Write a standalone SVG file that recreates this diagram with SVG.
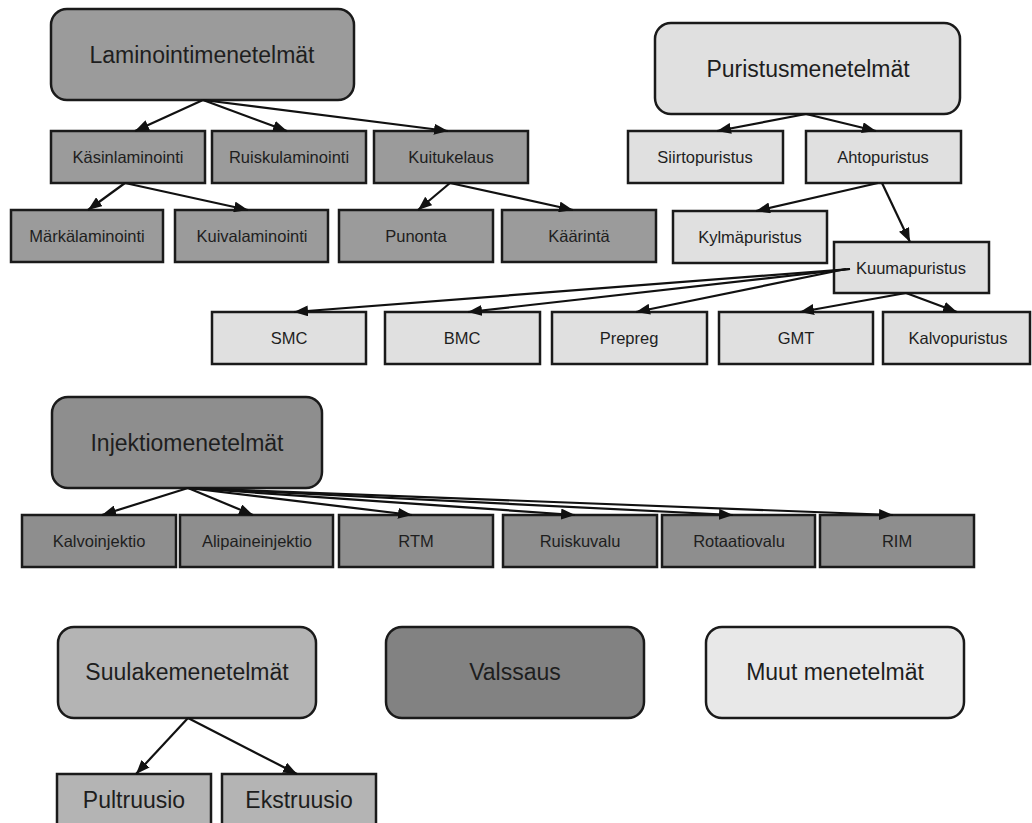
<svg xmlns="http://www.w3.org/2000/svg" width="1032" height="823" viewBox="0 0 1032 823">
<defs>
<marker id="ah" viewBox="0 0 14 11" refX="14" refY="5.5" markerWidth="14" markerHeight="11" markerUnits="userSpaceOnUse" orient="auto">
<path d="M0,0 L14,5.5 L0,11 z" fill="#111"/>
</marker>
</defs>
<style>
.box{stroke:#1a1a1a;stroke-width:2.5}
.d1{fill:#9b9b9b}
.d2{fill:#8e8e8e}
.d3{fill:#828282}
.m1{fill:#b4b4b4}
.l1{fill:#e0e0e0}
.l2{fill:#e8e8e8}
text{font-family:"Liberation Sans",Arial,sans-serif;fill:#1e1e1e;text-anchor:middle}
.big{font-size:23px}
.sm{font-size:16.5px}
.edge{stroke:#111;stroke-width:2.2;fill:none;marker-end:url(#ah)}
</style>
<rect width="1032" height="823" fill="#fff"/>

<g id="laminointi"><rect class="box d1" x="51" y="9" width="303" height="91" rx="16"/><text class="big" x="202" y="63">Laminointimenetelmät</text></g>
<g id="kasinlaminointi"><rect class="box d1" x="51" y="131" width="154" height="52"/><text class="sm" x="128" y="163">Käsinlaminointi</text></g>
<g id="ruiskulaminointi"><rect class="box d1" x="212" y="131" width="154" height="52"/><text class="sm" x="289" y="163">Ruiskulaminointi</text></g>
<g id="kuitukelaus"><rect class="box d1" x="374" y="131" width="154" height="52"/><text class="sm" x="451" y="163">Kuitukelaus</text></g>
<g id="markalaminointi"><rect class="box d1" x="11" y="210" width="152" height="52"/><text class="sm" x="87" y="242">Märkälaminointi</text></g>
<g id="kuivalaminointi"><rect class="box d1" x="175" y="210" width="153" height="52"/><text class="sm" x="252" y="242">Kuivalaminointi</text></g>
<g id="punonta"><rect class="box d1" x="339" y="210" width="154" height="52"/><text class="sm" x="416" y="242">Punonta</text></g>
<g id="kaarinta"><rect class="box d1" x="502" y="210" width="154" height="52"/><text class="sm" x="579" y="242">Käärintä</text></g>

<g id="puristus"><rect class="box l1" x="655" y="23" width="305" height="91" rx="16"/><text class="big" x="808" y="77">Puristusmenetelmät</text></g>
<g id="siirtopuristus"><rect class="box l1" x="628" y="131" width="155" height="52"/><text class="sm" x="705" y="163">Siirtopuristus</text></g>
<g id="ahtopuristus"><rect class="box l1" x="806" y="131" width="155" height="52"/><text class="sm" x="883" y="163">Ahtopuristus</text></g>
<g id="kylmapuristus"><rect class="box l1" x="673" y="211" width="154" height="52"/><text class="sm" x="750" y="243">Kylmäpuristus</text></g>
<g id="kuumapuristus"><rect class="box l1" x="834" y="242" width="155" height="51"/><text class="sm" x="911" y="274">Kuumapuristus</text></g>
<g id="smc"><rect class="box l1" x="212" y="312" width="154" height="52"/><text class="sm" x="289" y="344">SMC</text></g>
<g id="bmc"><rect class="box l1" x="385" y="312" width="155" height="52"/><text class="sm" x="462" y="344">BMC</text></g>
<g id="prepreg"><rect class="box l1" x="552" y="312" width="155" height="52"/><text class="sm" x="629" y="344">Prepreg</text></g>
<g id="gmt"><rect class="box l1" x="719" y="312" width="154" height="52"/><text class="sm" x="796" y="344">GMT</text></g>
<g id="kalvopuristus"><rect class="box l1" x="883" y="312" width="147" height="52"/><text class="sm" x="958" y="344">Kalvopuristus</text></g>

<g id="injektio"><rect class="box d2" x="52" y="397" width="270" height="91" rx="16"/><text class="big" x="187" y="451">Injektiomenetelmät</text></g>
<g id="kalvoinjektio"><rect class="box d2" x="22" y="515" width="154" height="52"/><text class="sm" x="99" y="547">Kalvoinjektio</text></g>
<g id="alipaineinjektio"><rect class="box d2" x="180" y="515" width="153" height="52"/><text class="sm" x="257" y="547">Alipaineinjektio</text></g>
<g id="rtm"><rect class="box d2" x="339" y="515" width="154" height="52"/><text class="sm" x="416" y="547">RTM</text></g>
<g id="ruiskuvalu"><rect class="box d2" x="503" y="515" width="154" height="52"/><text class="sm" x="580" y="547">Ruiskuvalu</text></g>
<g id="rotaatiovalu"><rect class="box d2" x="662" y="515" width="153" height="52"/><text class="sm" x="739" y="547">Rotaatiovalu</text></g>
<g id="rim"><rect class="box d2" x="820" y="515" width="154" height="52"/><text class="sm" x="897" y="547">RIM</text></g>

<g id="suulake"><rect class="box m1" x="58" y="627" width="258" height="91" rx="16"/><text class="big" x="187" y="680">Suulakemenetelmät</text></g>
<g id="valssaus"><rect class="box d3" x="386" y="627" width="258" height="91" rx="16"/><text class="big" x="515" y="680">Valssaus</text></g>
<g id="muut"><rect class="box l2" x="706" y="627" width="258" height="91" rx="16"/><text class="big" x="835" y="680">Muut menetelmät</text></g>
<g id="pultruusio"><rect class="box m1" x="57" y="774" width="154" height="56"/><text class="big" x="134" y="808">Pultruusio</text></g>
<g id="ekstruusio"><rect class="box m1" x="222" y="774" width="154" height="56"/><text class="big" x="299" y="808">Ekstruusio</text></g>

<g id="connectors">
<line class="edge" x1="203" y1="100" x2="135" y2="131"/>
<line class="edge" x1="203" y1="100" x2="287" y2="131"/>
<line class="edge" x1="203" y1="100" x2="448" y2="131"/>
<line class="edge" x1="125" y1="183" x2="88" y2="210"/>
<line class="edge" x1="125" y1="183" x2="248" y2="210"/>
<line class="edge" x1="450" y1="183" x2="418" y2="210"/>
<line class="edge" x1="450" y1="183" x2="573" y2="210"/>
<line class="edge" x1="806" y1="114" x2="717" y2="131"/>
<line class="edge" x1="806" y1="114" x2="876" y2="131"/>
<line class="edge" x1="878" y1="183" x2="756" y2="211"/>
<line class="edge" x1="882" y1="183" x2="910" y2="242"/>
<line class="edge" x1="850" y1="269" x2="294" y2="312"/>
<line class="edge" x1="850" y1="269" x2="468" y2="312"/>
<line class="edge" x1="846" y1="269" x2="636" y2="312"/>
<line class="edge" x1="906" y1="293" x2="800" y2="312"/>
<line class="edge" x1="906" y1="293" x2="957" y2="312"/>
<line class="edge" x1="188" y1="488" x2="102" y2="515"/>
<line class="edge" x1="188" y1="488" x2="253" y2="515"/>
<line class="edge" x1="188" y1="488" x2="412" y2="515"/>
<line class="edge" x1="188" y1="488" x2="575" y2="515"/>
<line class="edge" x1="188" y1="488" x2="733" y2="515"/>
<line class="edge" x1="188" y1="488" x2="893" y2="515"/>
<line class="edge" x1="188" y1="718" x2="136" y2="774"/>
<line class="edge" x1="188" y1="718" x2="297" y2="774"/>
</g>
</svg>
